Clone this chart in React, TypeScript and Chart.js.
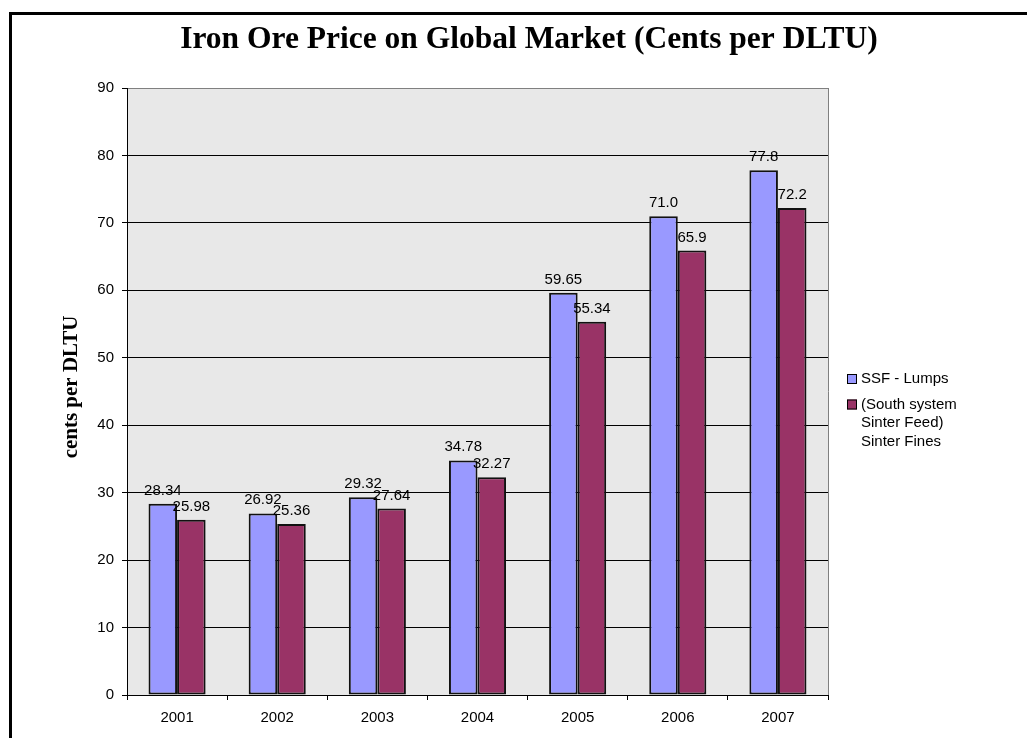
import React, { useEffect, useRef } from "react";
import { Chart, registerables } from "chart.js";

Chart.register(...registerables);

const chartTitle = "Iron Ore Price on Global Market (Cents per DLTU)";
const yAxisTitle = "cents per DLTU";
const years = ["2001", "2002", "2003", "2004", "2005", "2006", "2007"];
const seriesNames = ["SSF - Lumps", "(South system Sinter Feed) Sinter Fines"];
const lumps = [28.34, 26.92, 29.32, 34.78, 59.65, 71.0, 77.8];
const fines = [25.98, 25.36, 27.64, 32.27, 55.34, 65.9, 72.2];
const labelDecimals = [2, 2, 2, 2, 2, 1, 1];
const yMin = 0;
const yMax = 90;
const yStep = 10;
const colors = ["#9999FF", "#993366"];

const SANS = "'Liberation Sans', Arial, sans-serif";
const SERIF = "'Liberation Serif', 'Times New Roman', serif";

export default function App() {
  const ref = useRef<HTMLCanvasElement | null>(null);

  useEffect(() => {
    if (!ref.current) return;

    const decor = {
      id: "decor",
      beforeDraw(chart: any) {
        const { ctx, chartArea: a } = chart;
        ctx.save();
        ctx.fillStyle = "#ffffff";
        ctx.fillRect(0, 0, chart.width, chart.height);
        ctx.fillStyle = "#e8e8e8";
        ctx.fillRect(a.left, a.top, a.right - a.left, a.bottom - a.top);
        ctx.restore();
      },
      beforeDatasetsDraw(chart: any) {
        const { ctx, chartArea: a } = chart;
        ctx.save();
        ctx.strokeStyle = "#808080";
        ctx.lineWidth = 1;
        ctx.beginPath();
        ctx.moveTo(Math.round(a.right) + 0.5, a.top);
        ctx.lineTo(Math.round(a.right) + 0.5, a.bottom);
        ctx.stroke();
        ctx.restore();
      },
      afterDatasetsDraw(chart: any) {
        const { ctx } = chart;
        ctx.save();
        ctx.font = `15px ${SANS}`;
        ctx.fillStyle = "#000";
        ctx.textAlign = "center";
        ctx.textBaseline = "alphabetic";
        chart.data.datasets.forEach((ds: any, di: number) => {
          const meta = chart.getDatasetMeta(di);
          meta.data.forEach((el: any, i: number) => {
            const v = ds.data[i] as number;
            ctx.fillText(v.toFixed(labelDecimals[i]), el.x, el.y - 9);
          });
        });
        ctx.restore();
      },
      afterDraw(chart: any) {
        const { ctx } = chart;
        ctx.save();
        // title
        ctx.font = `bold 31.5px ${SERIF}`;
        ctx.fillStyle = "#000";
        ctx.textAlign = "center";
        ctx.textBaseline = "alphabetic";
        ctx.fillText(chartTitle, 529, 48);
        // y axis title
        ctx.save();
        ctx.translate(72, 387);
        ctx.rotate(-Math.PI / 2);
        ctx.font = `bold 21px ${SERIF}`;
        ctx.textBaseline = "middle";
        ctx.fillText(yAxisTitle, 0, 0);
        ctx.restore();
        // legend
        ctx.font = `15px ${SANS}`;
        ctx.textAlign = "left";
        ctx.textBaseline = "middle";
        const lineH = 18.5;
        let y = 379;
        seriesNames.forEach((name, i) => {
          const words = name.split(" ");
          const lines: string[] = [];
          let cur = "";
          words.forEach((w) => {
            const t = cur ? cur + " " + w : w;
            if (cur && ctx.measureText(t).width > 110) {
              lines.push(cur);
              cur = w;
            } else cur = t;
          });
          if (cur) lines.push(cur);
          ctx.fillStyle = colors[i];
          ctx.fillRect(847, y - 5, 10, 10);
          ctx.strokeStyle = "#000";
          ctx.lineWidth = 1;
          ctx.strokeRect(847.5, y - 4.5, 9, 9);
          ctx.fillStyle = "#000";
          lines.forEach((ln, k) => ctx.fillText(ln, 861, y + k * lineH));
          y += lines.length * lineH + 7;
        });
        ctx.restore();
      },
    };

    const chart = new Chart(ref.current, {
      type: "bar",
      data: {
        labels: years,
        datasets: [
          {
            label: seriesNames[0],
            data: lumps,
            backgroundColor: colors[0],
            borderColor: "#111",
            borderWidth: 2,
            borderSkipped: false,
            categoryPercentage: 0.57,
            barPercentage: 1,
          },
          {
            label: seriesNames[1],
            data: fines,
            backgroundColor: colors[1],
            borderColor: "#111",
            borderWidth: 2,
            borderSkipped: false,
            categoryPercentage: 0.57,
            barPercentage: 1,
          },
        ],
      },
      options: {
        responsive: false,
        animation: false,
        devicePixelRatio: 1,
        layout: { padding: { left: 0, right: 199, top: 88, bottom: 0 } },
        plugins: {
          legend: { display: false },
          title: { display: false },
          tooltip: { enabled: false },
        },
        scales: {
          x: {
            offset: true,
            grid: {
              display: true,
              drawOnChartArea: false,
              offset: true,
              tickLength: 5,
              color: "#000",
            },
            border: { display: true, color: "#000", width: 1 },
            ticks: { color: "#000", font: { family: SANS, size: 15 }, padding: 9, maxRotation: 0 },
            afterFit: (s: any) => {
              s.height = 43;
            },
          },
          y: {
            min: yMin,
            max: yMax,
            grid: {
              color: (c: any) => (c.tick && c.tick.value === yMax ? "#808080" : "#000"),
              tickColor: "#000",
              tickLength: 5,
            },
            border: { display: true, color: "#000", width: 1 },
            ticks: { stepSize: yStep, color: "#000", font: { family: SANS, size: 15 }, padding: 8 },
            afterFit: (s: any) => {
              s.width = 127;
            },
          },
        },
      },
      plugins: [decor],
    });

    return () => chart.destroy();
  }, []);

  return (
    <div
      style={{
        position: "absolute",
        left: 0,
        top: 0,
        width: 1027,
        height: 738,
        overflow: "hidden",
        background: "#fff",
      }}
    >
      <canvas ref={ref} width={1027} height={738} style={{ display: "block" }} />
      <div
        style={{
          position: "absolute",
          left: 9,
          top: 12,
          width: 1100,
          height: 800,
          borderTop: "3px solid #000",
          borderLeft: "3px solid #000",
          pointerEvents: "none",
        }}
      />
    </div>
  );
}
